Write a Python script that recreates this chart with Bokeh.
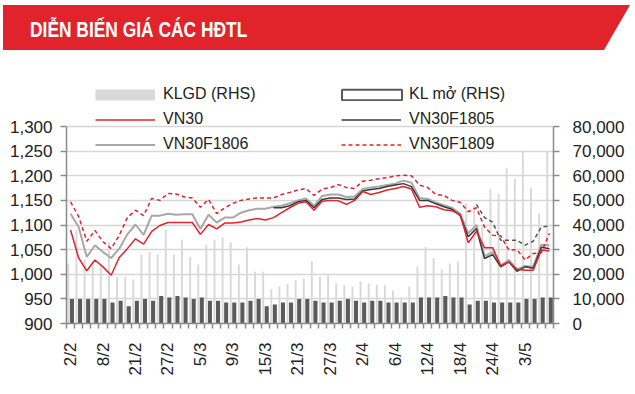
import math
from bokeh.plotting import figure
from bokeh.models import (Range1d, LinearAxis, FixedTicker, NumeralTickFormatter,
                          Legend, LegendItem, ColumnDataSource, Div)
from bokeh.layouts import column
from bokeh.transform import dodge
from bokeh.embed import file_html
from bokeh.resources import INLINE

# ---------------- data ----------------
dates = ["2/2", "5/2", "6/2", "7/2", "8/2", "9/2", "12/2", "13/2",
         "21/2", "22/2", "23/2", "26/2", "27/2", "28/2",
         "1/3", "2/3", "5/3", "6/3", "7/3", "8/3", "9/3", "12/3", "13/3", "14/3", "15/3", "16/3",
         "19/3", "20/3", "21/3", "22/3", "23/3", "26/3", "27/3", "28/3", "29/3", "30/3",
         "2/4", "3/4", "4/4", "5/4", "6/4", "9/4", "10/4", "11/4", "12/4", "13/4", "16/4", "17/4",
         "18/4", "19/4", "20/4", "23/4", "24/4", "26/4", "27/4",
         "2/5", "3/5", "4/5", "7/5", "8/5"]

tick_labels = ["2/2", "8/2", "21/2", "27/2", "5/3", "9/3", "15/3", "21/3",
               "27/3", "2/4", "6/4", "12/4", "18/4", "24/4", "3/5"]

vn30 = [1090, 1033, 1007, 1029, 1015, 998, 1034, 1052, 1072, 1061,
        1087, 1099, 1105, 1105, 1105, 1105, 1081, 1101, 1092, 1104,
        1104, 1106, 1110, 1113, 1110, 1115, 1125, 1135, 1144, 1147,
        1130, 1148, 1150, 1149, 1142, 1150, 1168, 1162, 1166, 1171,
        1174, 1178, 1173, 1136, 1139, 1137, 1131, 1129, 1121, 1064,
        1087, 1054, 1054, 1017, 1025, 1010, 1008, 1008, 1049, 1047]

vn30f1806 = [1123, 1096, 1035, 1059, 1045, 1033, 1052, 1081, 1101, 1080,
             1119, 1119, 1123, 1121, 1122, 1122, 1092, 1121, 1105, 1115,
             1115, 1125, 1130, 1133, 1133, 1137, 1139, 1144, 1150, 1154,
             1139, 1159, 1162, 1162, 1157, 1158, 1173, 1176, 1178, 1181,
             1184, 1190, 1186, 1155, 1153, 1146, 1140, 1135, 1123, 1083,
             1100, 1037, 1045, 1018, 1029, 1010, 1017, 1015, 1060, 1059]

vn30f1805_start = "16/3"
vn30f1805 = [1135, 1135, 1139, 1147, 1150, 1135, 1152, 1155, 1155, 1152,
             1153, 1169, 1172, 1174, 1178, 1181, 1184, 1178, 1150, 1150,
             1143, 1137, 1132, 1119, 1076, 1093, 1032, 1040, 1015, 1025,
             1006, 1015, 1012, 1055, 1052]

vn30f1809 = [1147, 1117, 1067, 1089, 1066, 1052, 1079, 1115, 1130, 1119,
             1154, 1150, 1164, 1163, 1157, 1155, 1136, 1152, 1123, 1135,
             1144, 1150, 1153, 1155, 1155, 1155, 1162, 1166, 1171, 1174,
             1160, 1173, 1176, 1182, 1176, 1174, 1189, 1191, 1194, 1196,
             1200, 1201, 1200, 1181, 1176, 1162, 1160, 1150, 1146, 1127,
             1135, 1096, 1079, 1078, 1049, 1050, 1029, 1042, 1044, 1083]

vn30f1812_start = "20/4"
vn30f1812 = [1142, 1115, 1106, 1069, 1069, 1069, 1059, 1067, 1096, 1098]

klgd = [24400, 38000, 26000, 25000, 24000, 33000, 19000, 19000, 18000, 28000,
        29000, 28000, 38000, 28000, 34000, 27000, 24000, 32000, 34000, 35000,
        33000, 24000, 31000, 21000, 21000, 14000, 15000, 16000, 17600, 18300,
        25300, 19000, 19600, 16200, 15500, 14900, 17200, 16200, 15800, 15500,
        13400, 10600, 14900, 23000, 31100, 26600, 21700, 24400, 25300, 48700,
        47800, 40000, 54500, 52800, 63200, 58900, 70400, 55200, 44700, 69700]

kl_mo = [9900, 9900, 9900, 9900, 9900, 8500, 9200, 7000, 9200, 9900,
         9200, 11200, 10600, 11200, 10600, 9900, 10600, 9200, 9200, 8500,
         8500, 8500, 9200, 9900, 7000, 7700, 8500, 8500, 9900, 9900,
         9200, 8500, 8500, 9200, 9900, 9200, 8500, 9200, 9200, 8500,
         8500, 8500, 8500, 10600, 10600, 10600, 11200, 10600, 10600, 7700,
         9200, 9200, 8500, 8500, 8500, 8500, 9900, 9900, 10600, 10600]

title_text = "DIỄN BIẾN GIÁ CÁC HĐTL"

# ---------------- styles ----------------
RED = "#e1232b"
FONT = "Liberation Sans"
AX = "#8a8a8a"
W = 635

N = len(dates)
idx = list(range(N))
s1805 = dates.index(vn30f1805_start)
s1812 = dates.index(vn30f1812_start)
x1805 = idx[s1805:s1805 + len(vn30f1805)]
x1812 = idx[s1812:s1812 + len(vn30f1812)]

# ---------------- header ----------------
header_html = (
    '<div style="position:relative;width:%dpx;height:60px;">'
    '<div style="position:absolute;left:3px;top:5px;width:627px;height:45px;'
    'background:%s;clip-path:polygon(0 0,100%% 0,calc(100%% - 26px) 100%%,0 100%%);"></div>'
    '<span style="position:absolute;left:30px;top:19px;font-family:\'Liberation Sans\',Arial,sans-serif;'
    'font-weight:bold;font-size:22px;line-height:22px;color:#ffffff;white-space:nowrap;'
    'transform:scaleX(0.79);transform-origin:0 0;">%s</span></div>'
) % (W, RED, title_text)
header = Div(text=header_html, width=W, height=60, margin=(0, 0, 0, 0))

# ---------------- main chart ----------------
plot_px = 197.0          # pixel height of the 900..1300 band
extra_px = 44.0          # frame space above 1,300 for the legend
y_top = 1300 + 400 * extra_px / plot_px
vol_top = 80000 + 80000 * extra_px / plot_px

p = figure(width=W, height=334, x_range=Range1d(-0.5, N - 0.5),
           y_range=Range1d(900, y_top), output_backend="svg", toolbar_location=None,
           min_border_left=66, min_border_right=82, min_border_top=22,
           min_border_bottom=71)
p.extra_y_ranges = {"vol": Range1d(0, vol_top)}
p.outline_line_color = None
p.xgrid.grid_line_color = None
p.ygrid.grid_line_color = "#d6d6d6"
p.ygrid.grid_line_width = 1.5
left_ticks = list(range(900, 1301, 50))
p.ygrid.ticker = FixedTicker(ticks=left_ticks)

ya = p.yaxis[0]
ya.ticker = FixedTicker(ticks=left_ticks)
ya.formatter = NumeralTickFormatter(format="0,0")
ya.bounds = (900, 1300)

ra = LinearAxis(y_range_name="vol", ticker=FixedTicker(ticks=list(range(0, 80001, 10000))),
                formatter=NumeralTickFormatter(format="0,0"), bounds=(0, 80000))
p.add_layout(ra, "right")

xa = p.xaxis[0]
xa.ticker = FixedTicker(ticks=[dates.index(t) for t in tick_labels],
                        minor_ticks=[i - 0.5 for i in range(N + 1)])
xa.major_label_overrides = {dates.index(t): t for t in tick_labels}
xa.major_label_orientation = math.pi / 2
xa.major_tick_out = 0
xa.major_tick_in = 0
xa.minor_tick_out = 5
xa.minor_tick_in = 0
xa.minor_tick_line_color = AX
xa.minor_tick_line_width = 1.5
xa.major_label_standoff = 14

for a in (ya, ra):
    a.major_tick_out = 6
    a.major_tick_in = 0
    a.minor_tick_line_color = None
    a.major_tick_line_color = AX
    a.major_tick_line_width = 1.5
ya.major_label_standoff = 8
ra.major_label_standoff = 13

for a in (xa, ya, ra):
    a.axis_line_color = AX
    a.axis_line_width = 1.5
    a.major_label_text_font = FONT
    a.major_label_text_font_size = "17px"
    a.major_label_text_color = "#222222"

src = ColumnDataSource(dict(x=idx, klgd=klgd, kl_mo=kl_mo))
x_light = dodge("x", -0.27, range=p.x_range)
x_dark = dodge("x", 0.17, range=p.x_range)
p.vbar(x=x_light, top="klgd", width=0.24, source=src,
       y_range_name="vol", fill_color="#d9d9d9", line_color=None)
p.vbar(x=x_dark, top="kl_mo", width=0.5, source=src,
       y_range_name="vol", fill_color="#5b5b5b", line_color=None)

r1806 = p.line(idx, vn30f1806, line_color="#a8a8a8", line_width=2)
r1809 = p.line(idx, vn30f1809, line_color=RED, line_width=1.5, line_dash="4 3")
r1812 = p.line(x1812, vn30f1812, line_color="#555555", line_width=1.5, line_dash="4 3")
r1805 = p.line(x1805, vn30f1805, line_color="#3a3a3a", line_width=1.5)
rvn30 = p.line(idx, vn30, line_color=RED, line_width=1.5)

# hidden renderers of the same volume data, styled as the legend swatches
p_klgd = p.line(x="x", y="klgd", source=src, y_range_name="vol",
                line_color="#d9d9d9", line_width=11, visible=False)
p_klmo = p.vbar(x=x_dark, top="kl_mo", width=0.5, source=src, y_range_name="vol",
                fill_color="white", line_color="#5b5b5b", line_width=2, visible=False)


def mk_legend(items, loc, gw=60, standoff=8):
    return Legend(items=items, location=loc, glyph_width=gw, glyph_height=13,
                  label_height=20, spacing=5, padding=0, margin=0,
                  border_line_color=None, background_fill_alpha=0,
                  inactive_fill_alpha=0,
                  label_text_font=FONT, label_text_font_size="16px",
                  label_text_color="#222222", label_standoff=standoff)


p.add_layout(mk_legend([LegendItem(label="KLGD (RHS)", renderers=[p_klgd]),
                        LegendItem(label="VN30", renderers=[rvn30]),
                        LegendItem(label="VN30F1806", renderers=[r1806])],
                       (29, 169)), "center")
p.add_layout(mk_legend([LegendItem(label="KL mở (RHS)", renderers=[p_klmo])],
                       (268, 219), gw=75, standoff=0), "center")
p.add_layout(mk_legend([LegendItem(label="VN30F1805", renderers=[r1805]),
                        LegendItem(label="VN30F1809", renderers=[r1809])],
                       (275, 169)), "center")

layout = column(header, p, spacing=0)
open("out.html", "w").write(file_html(layout, INLINE))
